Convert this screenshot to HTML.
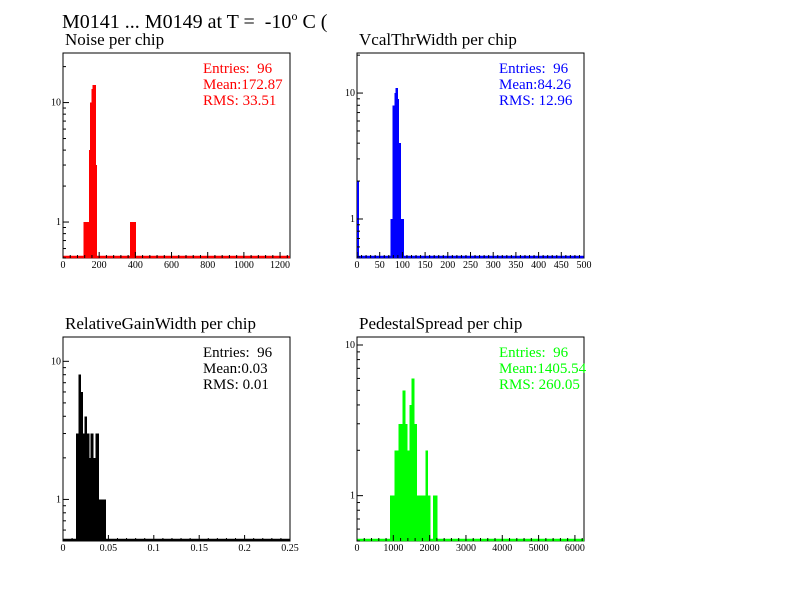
<!DOCTYPE html>
<html><head><meta charset="utf-8"><style>
body{margin:0;background:#fff;width:792px;height:612px;overflow:hidden}
svg{display:block;font-family:"Liberation Serif",serif}
text{white-space:pre}
</style></head><body>
<svg id="c" width="792" height="612" viewBox="0 0 792 612">
<text x="62" y="28" font-size="20">M0141 ... M0149 at T =  -10<tspan font-size="12" dy="-8">o</tspan><tspan dy="8"> C (</tspan></text>
</svg>
<script>
// Noise per chip
const noiseLo=[112,143,149,157,162,180,370,386];
const noiseHi=[143,149,157,162,180,184,386,402];
const noiseCounts=[1,4,10,13,14,3,1,1];
const noiseTicks=[0,200,400,600,800,1000,1200];
// VcalThrWidth per chip
const vcalLo=[0,74,78.6,82.2,85.2,88.8,91.8,95.5];
const vcalHi=[3,78.6,82.2,85.2,88.8,91.8,95.5,102];
const vcalCounts=[2,1,8,10,11,9,4,1];
const vcalTicks=[0,50,100,150,200,250,300,350,400,450,500];
// RelativeGainWidth per chip
const gainLo=[0.0143,0.0169,0.0195,0.0217,0.0235,0.0261,0.0286,0.0305,0.0330,0.0356,0.0393];
const gainHi=[0.0169,0.0195,0.0217,0.0235,0.0261,0.0286,0.0305,0.0330,0.0356,0.0393,0.0466];
const gainCounts=[3,8,6,3,4,3,2,3,2,3,1];
const gainTicks=[0,0.05,0.1,0.15,0.2,0.25];
// PedestalSpread per chip
const pedLo=[909,1029,1138,1249,1322,1377,1442,1506,1570,1634,1882,1946,2094];
const pedHi=[1029,1138,1249,1322,1377,1442,1506,1570,1634,1882,1946,2011,2204];
const pedCounts=[1,2,3,5,3,2,4,6,3,1,2,1,1];
const pedTicks=[0,1000,2000,3000,4000,5000,6000];

const NS="http://www.w3.org/2000/svg";
const svg=document.getElementById('c');
function el(t,a,p){const e=document.createElementNS(NS,t);for(const k in a)e.setAttribute(k,a[k]);(p||svg).appendChild(e);return e;}

function panel(o){
  const g=el('g',{});
  
  
  const L=o.x0,R=o.x1,T=o.y0,B=o.y1;
  const sx=v=>L+(v-o.xmin)/(o.xmax-o.xmin)*(R-L);
  const lmin=Math.log10(o.ymin),lmax=Math.log10(o.ymax);
  const sy=v=>B-(Math.log10(v)-lmin)/(lmax-lmin)*(B-T);
  const t=el('text',{x:L+2,y:T-8,'font-size':17},g);t.textContent=o.title;
  
  
  const fr=el('rect',{x:L,y:T,width:R-L,height:B-T,fill:'none',stroke:'#000','stroke-width':1},g);
  
  
  for(let i=0;i<o.counts.length;i++){
    const x=sx(o.lo[i]),w=sx(o.hi[i])-x,y=sy(o.counts[i]);
    const r=el('rect',{x:x,y:y,width:Math.max(w,1)+0.5,height:B-y,fill:o.color,'shape-rendering':'crispEdges'},g);
    
    
  }
  const bl=el('line',{x1:L,x2:R,y1:B-1,y2:B-1,stroke:o.color,'stroke-width':2.5},g);
  
  
  const step=o.ticks[1]-o.ticks[0];
  for(let v=o.xmin;v<=o.xmax+1e-9;v+=step/5){
    const major=Math.abs(Math.round(v/step)*step-v)<step*1e-3;
    el('line',{x1:sx(v),x2:sx(v),y1:B,y2:B-(major?6:3),stroke:'#000','stroke-width':1},g);
  }
  o.ticks.forEach(v=>{
    const tx=el('text',{x:sx(v),y:B+10,'font-size':10,'text-anchor':'middle'},g);
    tx.textContent=String(v);
    
    
  });
  for(let d=Math.floor(lmin);d<=Math.ceil(lmax);d++){
    for(let m=1;m<10;m++){
      const v=m*Math.pow(10,d);
      if(v<o.ymin||v>o.ymax)continue;
      el('line',{x1:L,x2:L+(m===1?6:3),y1:sy(v),y2:sy(v),stroke:'#000','stroke-width':1},g);
      if(m===1){
        const ty=el('text',{x:L-2,y:sy(v)+3,'font-size':10,'text-anchor':'end'},g);
        ty.textContent=String(v);
        
        
      }
    }
  }
  o.stats.forEach((s,i)=>{
    const st=el('text',{x:o.sx,y:T+20+i*16,'font-size':15,fill:o.color},g);
    st.textContent=s;
    
    
  });
}
panel({name:'noise-panel',title:'Noise per chip',x0:63,x1:290,y0:53,y1:258,xmin:0,xmax:1255,ymin:0.5,ymax:26,
  lo:noiseLo,hi:noiseHi,counts:noiseCounts,ticks:noiseTicks,color:'#ff0000',sx:203,
  stats:['Entries:  96','Mean:172.87','RMS: 33.51']});
panel({name:'vcal-panel',title:'VcalThrWidth per chip',x0:357,x1:584,y0:53,y1:258,xmin:0,xmax:500,ymin:0.49,ymax:20.8,
  lo:vcalLo,hi:vcalHi,counts:vcalCounts,ticks:vcalTicks,color:'#0000ff',sx:499,
  stats:['Entries:  96','Mean:84.26','RMS: 12.96']});
panel({name:'gain-panel',title:'RelativeGainWidth per chip',x0:63,x1:290,y0:337,y1:541,xmin:0,xmax:0.25,ymin:0.5,ymax:15,
  lo:gainLo,hi:gainHi,counts:gainCounts,ticks:gainTicks,color:'#000000',sx:203,
  stats:['Entries:  96','Mean:0.03','RMS: 0.01']});
panel({name:'pedestal-panel',title:'PedestalSpread per chip',x0:357,x1:584,y0:337,y1:541,xmin:0,xmax:6250,ymin:0.5,ymax:11.3,
  lo:pedLo,hi:pedHi,counts:pedCounts,ticks:pedTicks,color:'#00ff00',sx:499,
  stats:['Entries:  96','Mean:1405.54','RMS: 260.05']});
</script>
</body></html>
